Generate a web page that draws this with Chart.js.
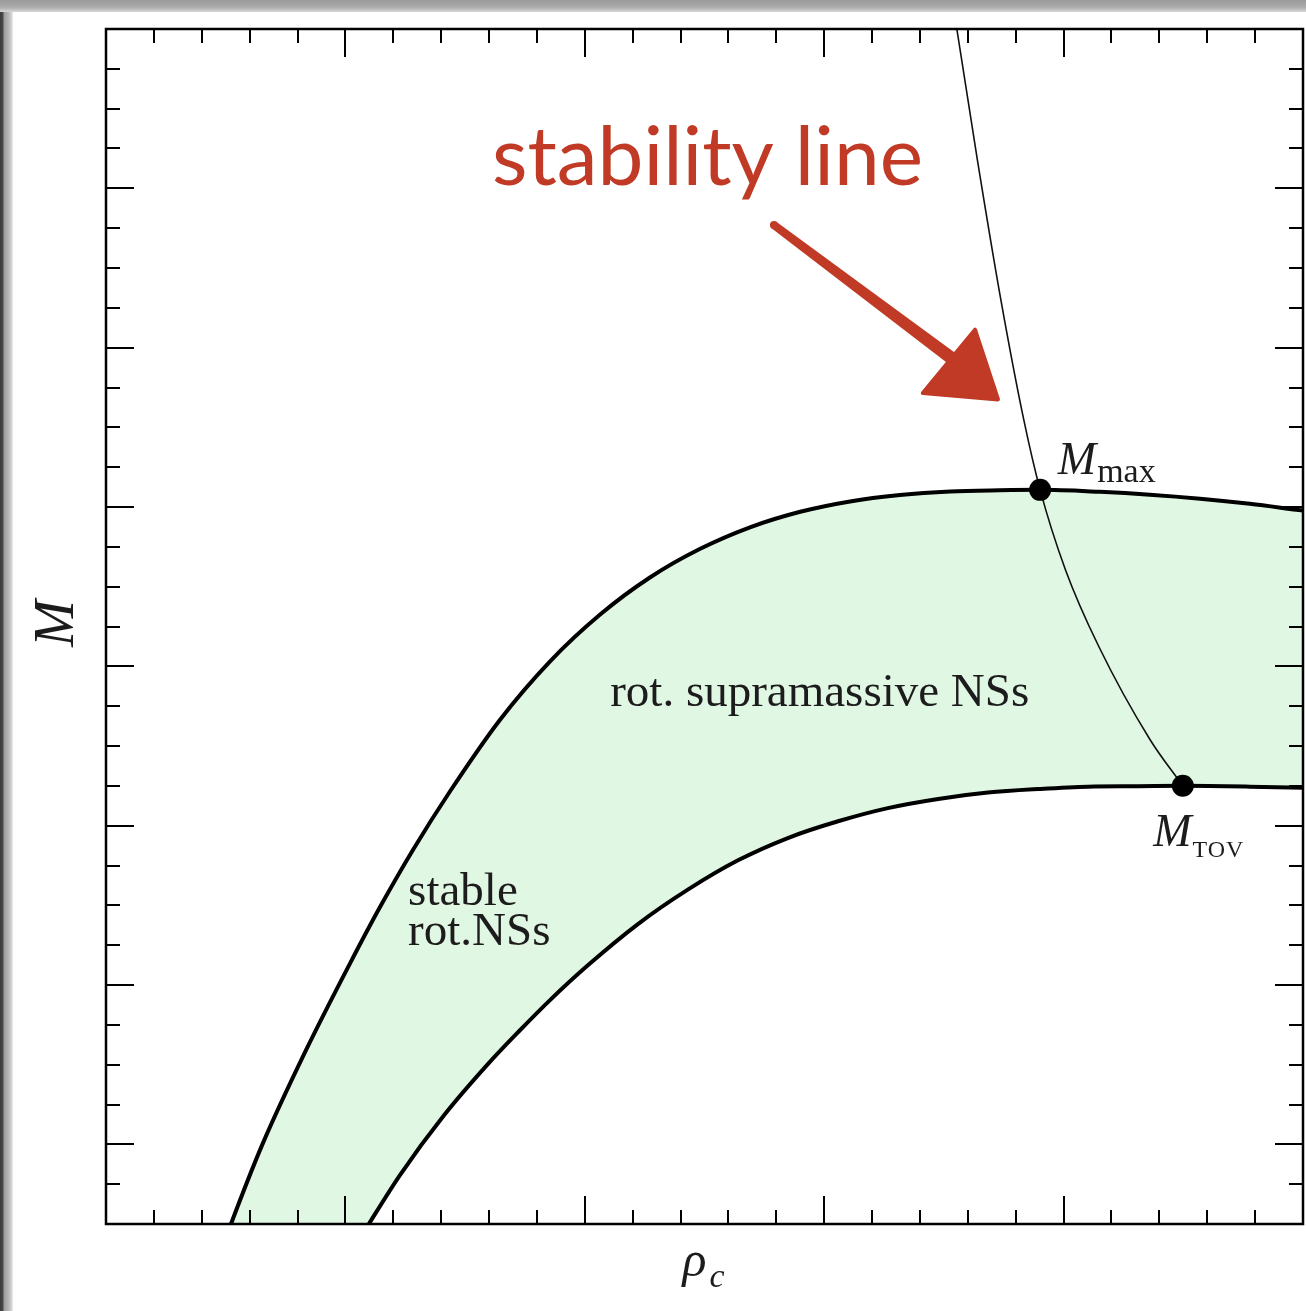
<!DOCTYPE html>
<html>
<head>
<meta charset="utf-8">
<title>Rotating neutron star sequences</title>
<script src="https://cdn.jsdelivr.net/npm/chart.js@4.4.1/dist/chart.umd.min.js"></script>
<style>
  html, body { margin: 0; padding: 0; background: #fff; }
  body { width: 1306px; height: 1311px; position: relative; overflow: hidden; }
  .edge-top { position: absolute; left: 0; top: 0; width: 1306px; height: 12px;
    background: linear-gradient(to bottom, #9a9a9a 0, #ababab 60%, #d6d6d6 100%); z-index: 2; }
  .edge-left { position: absolute; left: 0; top: 0; width: 13px; height: 1311px;
    background: linear-gradient(to right, #3a3a3a 0, #4c4c4c 3px, #9c9c9c 4px, #c2c2c2 10px, #ececec 13px); z-index: 1; }
  #wrap { position: absolute; left: 0; top: 0; width: 1306px; height: 1311px; z-index: 0; }
</style>
</head>
<body>
<div class="edge-top"></div>
<div class="edge-left"></div>
<div id="wrap"><canvas id="chart" width="1306" height="1311"></canvas></div>
<script>
// Central density (arbitrary units) and mass (arbitrary units)
// Upper boundary: mass-shedding (maximally rotating) sequence
const upperRho = [2.36, 2.61, 3.26, 4.18, 5.10, 5.72, 6.41, 7.19, 8.23, 9.27, 10.32, 11.36, 12.41,
                  13.45, 14.50, 15.54, 16.58, 17.63, 18.67, 19.51, 20.76, 21.80, 22.85, 23.89, 25.00, 25.77];
const upperM   = [-2.83, -2.00, -0.02, 2.37, 4.55, 5.95, 7.39, 8.87, 10.66, 12.12, 13.30, 14.23, 14.95,
                  15.49, 15.88, 16.14, 16.30, 16.39, 16.42, 16.43, 16.38, 16.31, 16.21, 16.08, 15.91, 15.80];

// Lower boundary: non-rotating (TOV) sequence; the first two points lie below the plotted range
const lowerRho = [2.00, 4.89, 5.49, 6.14, 7.06, 7.98, 8.61, 9.29, 10.07, 11.11, 12.16, 13.20, 14.24, 15.29,
                  16.33, 17.38, 18.42, 19.47, 20.51, 21.55, 22.49, 23.89, 25.00, 25.77];
const lowerM   = [-8.80, -3.18, -2.00, -0.77, 0.73, 2.02, 2.82, 3.64, 4.50, 5.53, 6.40, 7.13, 7.69, 8.11,
                  8.44, 8.67, 8.83, 8.92, 8.98, 8.99, 9.00, 8.98, 8.95, 8.92];

// Turning-point (stability) line from M_TOV up through M_max
const stabRho = [17.68, 17.77, 18.20, 18.69, 19.17, 19.51, 20.04, 20.73, 21.81, 22.49];
const stabM   = [28.73, 28.00, 24.71, 21.20, 18.18, 16.43, 14.42, 12.51, 10.15, 9.00];

// Marked configurations: M_max and M_TOV
const markNames = ['max', 'TOV'];
const markRho   = [19.51, 22.49];
const markM     = [16.43, 9.00];

// Axis ranges and tick spacing
const rhoRange = [0, 25];
const mRange   = [-2, 28];
const rhoMajorEvery = 5;
const mMajorEvery   = 4;

// Text annotations placed in data coordinates (left edge, baseline)
const regionLabels = [
  { text: 'rot. supramassive NSs', rho: 10.53, m: 11.00 },
  { text: 'stable',  rho: 6.31, m: 6.01 },
  { text: 'rot.NSs', rho: 6.31, m: 5.00 }
];
const markLabelPos = [
  { rho: 19.88, m: 16.83 },
  { rho: 21.87, m: 7.49 }
];
const calloutText = { text: 'stability line', rho: 8.06, m: 24.08 };
// Hand-drawn style arrow: tail, shaft end, head vertices
const arrowShaft = { rho: [13.95, 17.70], m: [23.08, 19.70] };
const arrowHead  = { rho: [18.15, 18.63, 17.06], m: [20.45, 18.70, 18.86] };

const toPts = (xs, ys) => xs.map((v, i) => ({ x: v, y: ys[i] }));

const INK = '#1c1c1c';
const RED = '#c13a26';
const SERIF = '"Liberation Serif", "DejaVu Serif", serif';

const frameTicks = {
  id: 'frameTicks',
  afterDatasetsDraw(chart) {
    const { ctx, chartArea: a, scales: { x, y } } = chart;
    ctx.save();
    ctx.strokeStyle = '#000';
    ctx.lineWidth = 2;
    ctx.beginPath();
    x.ticks.forEach(t => {
      const px = Math.round(x.getPixelForValue(t.value));
      const len = (Math.round(t.value) % rhoMajorEvery === 0) ? 28 : 14;
      ctx.moveTo(px, a.bottom); ctx.lineTo(px, a.bottom - len);
      ctx.moveTo(px, a.top);    ctx.lineTo(px, a.top + len);
    });
    y.ticks.forEach(t => {
      const py = Math.round(y.getPixelForValue(t.value));
      const len = (Math.round(t.value) % mMajorEvery === 0) ? 28 : 14;
      ctx.moveTo(a.left, py);  ctx.lineTo(a.left + len, py);
      ctx.moveTo(a.right, py); ctx.lineTo(a.right - len, py);
    });
    ctx.stroke();
    ctx.lineWidth = 2.5;
    ctx.strokeRect(a.left, a.top, a.right - a.left, a.bottom - a.top);
    ctx.restore();
  }
};

const annotations = {
  id: 'annotations',
  afterDraw(chart) {
    const { ctx, chartArea: a, scales: { x, y } } = chart;
    const X = v => x.getPixelForValue(v);
    const Y = v => y.getPixelForValue(v);
    ctx.save();
    ctx.fillStyle = INK;
    ctx.textBaseline = 'alphabetic';
    ctx.textAlign = 'left';

    // region labels
    ctx.font = `47px ${SERIF}`;
    regionLabels.forEach(l => ctx.fillText(l.text, X(l.rho), Y(l.m)));

    // M_max / M_TOV labels
    markLabelPos.forEach((p, i) => {
      const px = X(p.rho), py = Y(p.m);
      ctx.font = `italic 46px ${SERIF}`;
      ctx.fillText('M', px, py);
      const w = ctx.measureText('M').width;
      if (markNames[i] === 'max') {
        ctx.font = `34px ${SERIF}`;
        ctx.fillText('max', px + w + 1, py + 8);
      } else {
        ctx.font = `24px ${SERIF}`;
        ctx.letterSpacing = '1px';
        ctx.fillText('TOV', px + w + 1, py + 11);
        ctx.letterSpacing = '0px';
      }
    });

    // axis titles
    ctx.font = `italic 56px ${SERIF}`;
    ctx.save();
    ctx.translate(73, (a.top + a.bottom) / 2 - 3);
    ctx.rotate(-Math.PI / 2);
    ctx.textAlign = 'center';
    ctx.fillText('M', 0, 0);
    ctx.restore();

    const cx = (a.left + a.right) / 2;
    ctx.font = `italic 50px ${SERIF}`;
    const rw = ctx.measureText('\u03C1').width;
    ctx.fillText('\u03C1', cx - 22, 1276);
    ctx.font = `italic 34px ${SERIF}`;
    ctx.fillText('c', cx - 22 + rw + 3, 1287);

    // red callout
    ctx.fillStyle = RED;
    ctx.font = `82px Lato, "Open Sans", sans-serif`;
    ctx.fillText(calloutText.text, X(calloutText.rho), Y(calloutText.m));

    // tapered shaft, narrower at the tail
    const x0 = X(arrowShaft.rho[0]), y0 = Y(arrowShaft.m[0]);
    const x1 = X(arrowShaft.rho[1]), y1 = Y(arrowShaft.m[1]);
    const len = Math.hypot(x1 - x0, y1 - y0);
    const nx = -(y1 - y0) / len, ny = (x1 - x0) / len;
    const w0 = 4, w1 = 6.5;
    ctx.beginPath();
    ctx.moveTo(x0 + nx * w0, y0 + ny * w0);
    ctx.lineTo(x1 + nx * w1, y1 + ny * w1);
    ctx.lineTo(x1 - nx * w1, y1 - ny * w1);
    ctx.lineTo(x0 - nx * w0, y0 - ny * w0);
    ctx.closePath();
    ctx.fill();
    ctx.beginPath();
    ctx.arc(x0, y0, w0, 0, Math.PI * 2);
    ctx.fill();

    ctx.strokeStyle = RED;
    ctx.lineJoin = 'round';
    ctx.lineWidth = 4;
    ctx.beginPath();
    arrowHead.rho.forEach((r, i) => {
      const px = X(r), py = Y(arrowHead.m[i]);
      if (i === 0) ctx.moveTo(px, py); else ctx.lineTo(px, py);
    });
    ctx.closePath();
    ctx.fill();
    ctx.stroke();
    ctx.restore();
  }
};

new Chart(document.getElementById('chart'), {
  type: 'scatter',
  data: {
    datasets: [
      {
        label: 'markers',
        data: toPts(markRho, markM),
        showLine: false,
        pointRadius: 11,
        pointBackgroundColor: '#000',
        pointBorderWidth: 0,
        order: 0
      },
      {
        label: 'stability',
        data: toPts(stabRho, stabM),
        showLine: true,
        borderColor: '#111',
        borderWidth: 1.6,
        pointRadius: 0,
        cubicInterpolationMode: 'monotone',
        order: 1
      },
      {
        label: 'upper',
        data: toPts(upperRho, upperM),
        showLine: true,
        borderColor: '#000',
        borderWidth: 4,
        pointRadius: 0,
        cubicInterpolationMode: 'monotone',
        fill: '+1',
        backgroundColor: 'rgb(224,247,227)',
        order: 2
      },
      {
        label: 'lower',
        data: toPts(lowerRho, lowerM),
        showLine: true,
        borderColor: '#000',
        borderWidth: 4,
        pointRadius: 0,
        cubicInterpolationMode: 'monotone',
        order: 2
      }
    ]
  },
  options: {
    responsive: false,
    animation: false,
    events: [],
    layout: { autoPadding: false, padding: { left: 106, right: 3, top: 29, bottom: 87 } },
    elements: { line: { capBezierPoints: false } },
    plugins: {
      legend: { display: false },
      tooltip: { enabled: false },
      filler: { drawTime: 'beforeDatasetsDraw' }
    },
    scales: {
      x: {
        type: 'linear', min: rhoRange[0], max: rhoRange[1],
        ticks: { stepSize: 1, display: false },
        grid: { display: false, drawTicks: false },
        border: { display: false }
      },
      y: {
        type: 'linear', min: mRange[0], max: mRange[1],
        ticks: { stepSize: 1, display: false },
        grid: { display: false, drawTicks: false },
        border: { display: false }
      }
    }
  },
  plugins: [frameTicks, annotations]
});
</script>
</body>
</html>
